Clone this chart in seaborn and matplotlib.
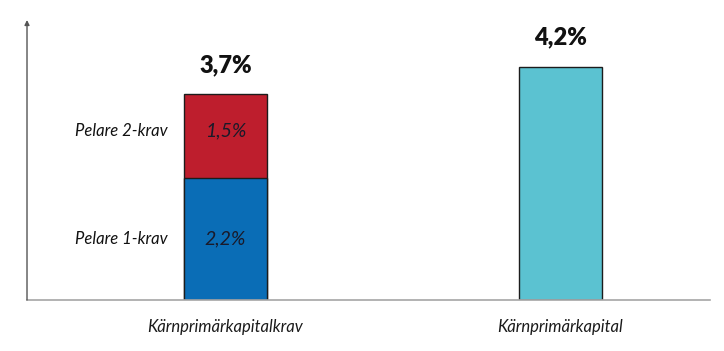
import matplotlib
matplotlib.use("Agg")
import matplotlib.pyplot as plt
import seaborn as sns
import pandas as pd

categories = ["Kärnprimärkapitalkrav", "Kärnprimärkapital"]
pelare1 = [2.2, 0.0]
pelare2 = [1.5, 0.0]
kapital = [0.0, 4.2]
totals = [3.7, 4.2]
total_labels = ["3,7%", "4,2%"]
segment_labels = ["Pelare 1-krav", "Pelare 2-krav"]
segment_values = ["2,2%", "1,5%"]

sns.set_theme(style="white")
plt.rcParams["font.family"] = ["Lato", "DejaVu Sans"]

fig = plt.figure(figsize=(7.24, 3.51), dpi=100)
ax = fig.add_axes([0.0373, 0.1453, 0.9434, 0.7977])

blue = "#0A6DB6"
red = "#BE1E2D"
cyan = "#5BC2D1"
edge = "#1c1c1c"

df = pd.DataFrame({
    "kategori": categories,
    "total": totals,
    "p1": pelare1,
})
# full heights (red on top of requirement, cyan for capital)
sns.barplot(data=df, x="kategori", y="total", hue="kategori",
            palette=[red, cyan], width=0.248, edgecolor=edge, linewidth=1.0,
            legend=False, ax=ax, saturation=1)
# bottom segment (pelare 1)
sns.barplot(data=df, x="kategori", y="p1", color=blue, width=0.248,
            edgecolor=edge, linewidth=1.0, ax=ax, saturation=1)

ax.set_xlim(-0.593, 1.448)
ax.set_ylim(0, 5.04)
ax.set_xlabel("")
ax.set_ylabel("")
ax.set_yticks([])
ax.tick_params(axis="x", length=0, pad=14)
for lab in ax.get_xticklabels():
    lab.set_fontstyle("italic")
    lab.set_fontsize(12)
    lab.set_color("#1a1a1a")

for s in ["top", "right"]:
    ax.spines[s].set_visible(False)
ax.spines["left"].set_visible(False)
ax.spines["bottom"].set_color("#a6a6a6")
ax.spines["bottom"].set_linewidth(1.2)

# y-axis with arrow
ax.annotate("", xy=(0, 1.0), xytext=(0, 0), xycoords="axes fraction",
            arrowprops=dict(arrowstyle="-|>", color="#555555", lw=1.0,
                            mutation_scale=7, shrinkA=0, shrinkB=0))

# totals
for i, (t, lab) in enumerate(zip(totals, total_labels)):
    ax.text(i, t + 0.53, lab, ha="center", va="center", fontsize=17,
            fontweight="heavy", color="#111111")

# segment labels
mids = [pelare1[0] / 2, pelare1[0] + pelare2[0] / 2 + 0.1]
for m, name, val in zip(mids, segment_labels, segment_values):
    ax.text(-0.172, m, name, ha="right", va="center", fontsize=12,
            fontstyle="italic", color="#111111")
    ax.text(0.0, m, val, ha="center", va="center", fontsize=14,
            fontstyle="italic", color="#1a1a2a")

fig.savefig("out.png", dpi=100)
